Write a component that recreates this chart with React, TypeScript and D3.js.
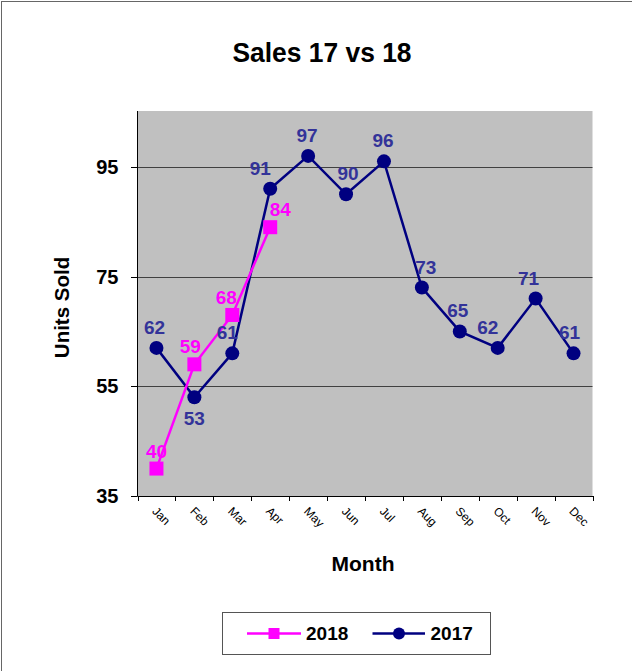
import React from "react";
import * as d3 from "d3";

const months = ["Jan", "Feb", "Mar", "Apr", "May", "Jun", "Jul", "Aug", "Sep", "Oct", "Nov", "Dec"];
const sales2017 = [62, 53, 61, 91, 97, 90, 96, 73, 65, 62, 71, 61];
const sales2018 = [40, 59, 68, 84];
const yTicks = [35, 55, 75, 95];
const gridValues = [55, 75, 95];
const title = "Sales 17 vs 18";
const xTitle = "Month";
const yTitle = "Units Sold";

// label placement styling (relative nudges, not data)
const label2017Below = [false, true, false, false, false, false, false, false, false, false, false, false];
const label2017Dx = [-2, 0, -5, -10, -1, 2, -1, 4, -2, -10, -7, -4];
const label2018Dx = [0, -4, -6, 10];

const W = 632;
const H = 671;
const FONT = "'Liberation Sans', Arial, Helvetica, sans-serif";
const NAVY = "#000080";
const NAVY_LABEL = "#333399";
const PINK = "#ff00ff";

export default function App() {
  const left = 137.5, right = 592.5, top = 112, bottom = 496;
  const x = d3.scaleBand<string>().domain(months).range([left, right]);
  const y = d3.scaleLinear().domain([35, 105]).range([bottom, top]);
  const cx = (i: number) => (x(months[i]) as number) + x.bandwidth() / 2;

  const line = d3.line<number>().x((_, i) => cx(i)).y((d) => y(d));

  return (
    <svg width={W} height={H} style={{ position: "absolute", left: 0, top: 0, display: "block" }} fontFamily={FONT}>
      <rect x={0} y={0} width={W} height={H} fill="#fff" />
      <rect x={1.5} y={1.5} width={W + 20} height={H + 20} fill="none" stroke="#666" strokeWidth={1} />
      <text x={322} y={61.5} textAnchor="middle" fontSize={27} fontWeight="bold" textLength={179} lengthAdjust="spacingAndGlyphs">{title}</text>

      {/* plot area */}
      <rect x={left} y={top - 1} width={right - left} height={bottom - top + 1} fill="#c0c0c0" />
      {gridValues.map((v) => (
        <line key={v} x1={left} x2={right} y1={Math.round(y(v)) + 0.5} y2={Math.round(y(v)) + 0.5} stroke="#404040" strokeWidth={1} />
      ))}
      {/* axes */}
      <line x1={left} x2={left} y1={top - 1} y2={bottom} stroke="#000" strokeWidth={1} />
      <line x1={left} x2={right + 0.5} y1={bottom + 0.5} y2={bottom + 0.5} stroke="#000" strokeWidth={1} />
      {yTicks.map((v) => (
        <g key={v}>
          <line x1={131} x2={left} y1={Math.round(y(v)) + 0.5} y2={Math.round(y(v)) + 0.5} stroke="#000" />
          <text x={118.5} y={y(v)} dy="0.36em" textAnchor="end" fontSize={20} fontWeight="bold">{v}</text>
        </g>
      ))}
      {d3.range(months.length + 1).map((i) => {
        const xx = Math.round(left + i * x.step()) + 0.5;
        return <line key={i} x1={xx} x2={xx} y1={bottom} y2={bottom + 5} stroke="#000" />;
      })}
      {months.map((m, i) => (
        <text key={m} transform={`translate(${cx(i) + 1},${bottom + 10}) rotate(45)`} fontSize={12} textAnchor="start" dy="0.7em">{m}</text>
      ))}

      {/* axis titles */}
      <text transform={`translate(69,307.5) rotate(-90)`} textAnchor="middle" fontSize={20.5} fontWeight="bold">{yTitle}</text>
      <text x={363} y={571} textAnchor="middle" fontSize={21} fontWeight="bold">{xTitle}</text>

      {/* 2017 series */}
      <path d={line(sales2017) || ""} fill="none" stroke={NAVY} strokeWidth={2.5} />
      {sales2017.map((v, i) => (
        <circle key={i} cx={cx(i)} cy={y(v)} r={7} fill={NAVY} />
      ))}
      {/* 2018 series */}
      <path d={line(sales2018) || ""} fill="none" stroke={PINK} strokeWidth={2.5} />
      {sales2018.map((v, i) => (
        <rect key={i} x={cx(i) - 7} y={y(v) - 7} width={14} height={14} fill={PINK} />
      ))}

      {/* labels */}
      {sales2017.map((v, i) => (
        <text key={i} x={cx(i) + label2017Dx[i]} y={label2017Below[i] ? y(v) + 27.5 : y(v) - 14} textAnchor="middle" fontSize={19} fontWeight="bold" fill={NAVY_LABEL}>{v}</text>
      ))}
      {sales2018.map((v, i) => (
        <text key={i} x={cx(i) + label2018Dx[i]} y={y(v) - 11} textAnchor="middle" fontSize={19} fontWeight="bold" fill={PINK}>{v}</text>
      ))}

      {/* legend */}
      <rect x={222.5} y={612.5} width={268} height={42} fill="#fff" stroke="#555" strokeWidth={1} />
      <line x1={247} x2={301} y1={633.5} y2={633.5} stroke={PINK} strokeWidth={2.5} />
      <rect x={268.5} y={628} width={11} height={11} fill={PINK} />
      <text x={306} y={640} fontSize={19} fontWeight="bold">2018</text>
      <line x1={372.5} x2={425} y1={633.5} y2={633.5} stroke={NAVY} strokeWidth={2.5} />
      <circle cx={399} cy={633.5} r={6} fill={NAVY} />
      <text x={430.5} y={640} fontSize={19} fontWeight="bold">2017</text>
    </svg>
  );
}
